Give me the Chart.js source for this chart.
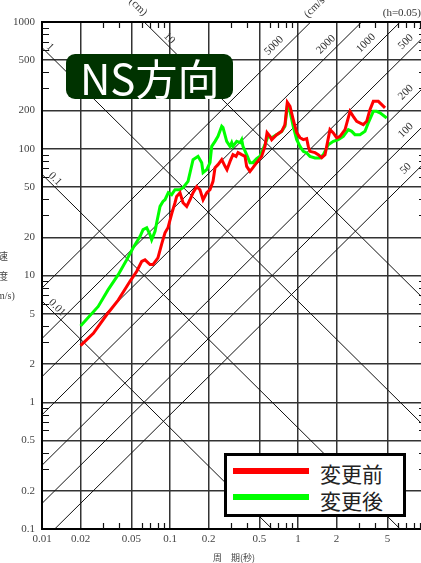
<!DOCTYPE html>
<html><head><meta charset="utf-8">
<script src="https://cdn.jsdelivr.net/npm/chart.js@4/dist/chart.umd.min.js"></script>
<style>
html,body{margin:0;padding:0;overflow:hidden;background:#fff;width:421px;height:563px;}
#wrap{position:relative;width:421px;height:563px;overflow:hidden;}
#c{position:absolute;left:0;top:0;}
#title{position:absolute;left:66px;top:54px;width:153px;height:45px;padding-left:14px;background:#003300;border-radius:9px;color:#fff;font:42px 'Noto Sans CJK JP',sans-serif;line-height:45px;text-align:left;white-space:nowrap;overflow:hidden;}
#legend{position:absolute;left:224px;top:453px;width:176px;height:58px;border:3px solid #000;background:#fff;}
.sw{position:absolute;left:6px;width:76px;height:6px;}
.lab{position:absolute;left:93px;font:21px 'Noto Sans CJK JP',sans-serif;line-height:21px;color:#222;white-space:nowrap;}
</style></head>
<body><div id="wrap"><canvas id="c" width="440" height="563"></canvas><div id="title"></div><div id="legend"></div></div>
<script>
// ---- data ----
const chartTitle = 'NS方向';
const seriesNames = ['変更前', '変更後'];
const seriesColors = ['#ff0000', '#00ff00'];

const T_before = [0.02,0.0252,0.032,0.0394,0.0487,0.055,0.0601,0.0638,0.0698,0.0736,0.0805,0.0866,0.0914,0.0964,0.1037,0.1094,0.1127,0.1197,0.1264,0.135,0.1432,0.1514,0.1617,0.1714,0.1813,0.1937,0.2054,0.2168,0.2248,0.2371,0.2536,0.2692,0.2786,0.2945,0.3105,0.328,0.34,0.363,0.3855,0.397,0.4217,0.4446,0.4753,0.52,0.552,0.573,0.604,0.623,0.682,0.746,0.791,0.825,0.866,0.918,0.977,1.037,1.1,1.169,1.203,1.24,1.358,1.44,1.531,1.626,1.778,1.888,2.006,2.13,2.33,2.55,2.70,2.874,3.236,3.44,3.65,3.875,4.24,4.51,4.786];
const V_before = [2.8,3.5,4.9,6.4,9.0,10.8,12.9,13.3,12.2,12.2,13.8,18.1,21.7,23.8,31.3,37.5,42.1,45,37.5,35.1,39.6,45,50.2,47.5,39.6,45,47.5,55.3,70.9,74.9,82,72.6,68.4,79.5,89.8,87.1,93.2,89.8,87.1,72.6,66.3,70.9,77.7,87.1,104.4,134,125.3,118,129.2,137.2,155,232.6,216.3,169.8,134,122.3,118,120.2,104.4,95.4,93.2,89.8,85.1,89.8,141.5,133.3,121.7,125.3,141.5,197.4,180.3,164.6,155,164.6,203.6,236.7,236.7,223,210];

const T_after = [0.02,0.0275,0.0328,0.0393,0.0459,0.0514,0.0583,0.0616,0.0658,0.0698,0.0719,0.0764,0.0787,0.0836,0.0881,0.0914,0.097,0.103,0.1094,0.1197,0.1264,0.1383,0.1514,0.1656,0.1769,0.1813,0.1937,0.2054,0.2118,0.2248,0.2371,0.2536,0.2594,0.2773,0.2945,0.3034,0.3105,0.332,0.3524,0.363,0.3715,0.397,0.4217,0.4446,0.4753,0.505,0.552,0.583,0.623,0.682,0.746,0.791,0.825,0.866,0.918,0.977,1.037,1.1,1.169,1.24,1.358,1.485,1.577,1.725,1.888,2.064,2.259,2.472,2.628,2.786,3.05,3.337,3.54,3.875,4.12,4.37,4.93];
const V_after = [4.0,5.7,7.7,10.1,13.3,16.5,20.3,23.0,23.8,21,19.1,22.3,26.1,35.1,38.4,39.6,45,43.4,47.5,47.5,49.3,55.3,82,87.1,77.7,64.7,68.4,77.7,104.4,114.4,125.3,150.3,146.8,114.4,104.4,111.7,104.4,114.4,111.7,118,104.4,89.8,77.7,77.7,83.5,87.1,107.7,125.3,122.3,129.2,137.2,150.3,216.3,197.4,150.3,118,104.4,95.4,92.6,87.1,84.6,84.6,89.8,107.7,114.4,118,125.3,141.5,137.2,129.2,129.2,137.2,159.9,197.4,197.4,191.8,175];

const xTickLabels = ['0.01','0.02','0.05','0.1','0.2','0.5','1','2','5','10'];
const yTickLabels = ['0.1','0.2','0.5','1','2','5','10','20','50','100','200','500','1000'];
const dispLines = [0.01, 0.1, 1, 10];            // displacement (cm)
const dispLabelAt = [0.01214, 0.01172, 0.01071, 0.0914];
const accLines = [50, 100, 200, 500, 1000, 2000, 5000];   // acceleration (cm/s2)
const accLabelAt = [7.8, 7.8, 7.8, 7.8, 3.81, 1.858, 0.729];
const xTitle = '周　期(秒)';
const yTitle = ['速', '度', '(cm/s)'];
const dispUnit = '(cm)';
const accUnit = '(cm/s²)';
const dampingNote = '(h=0.05)';

// ---- helpers ----
const TWO_PI = 2 * Math.PI;
const X_MIN = 0.01, X_MAX = 10, Y_MIN = 0.1, Y_MAX = 1000;
function logTicks(min, max) {
  const out = [];
  for (let e = Math.round(Math.log10(min)); e <= Math.round(Math.log10(max)); e++) {
    for (let m = 1; m <= 9; m++) {
      const v = Number((m * Math.pow(10, e)).toPrecision(6));
      if (v >= min * 0.9999 && v <= max * 1.0001) out.push(v);
    }
  }
  return out;
}
function labelFor(v, labels) {
  for (const s of labels) { if (Math.abs(parseFloat(s) / v - 1) < 1e-6) return s; }
  return '';
}
const xAll = logTicks(X_MIN, X_MAX), yAll = logTicks(Y_MIN, Y_MAX);

const datasets = [];
[[T_before, V_before], [T_after, V_after]].forEach((s, i) => {
  datasets.push({
    label: seriesNames[i], series: true,
    data: s[0].map((t, k) => ({x: t, y: s[1][k]})),
    borderColor: seriesColors[i], backgroundColor: seriesColors[i],
    borderWidth: 3, pointRadius: 0, tension: 0, order: i
  });
});
dispLines.forEach(D => datasets.push({
  label: 'D' + D, data: [{x: X_MIN, y: TWO_PI * D / X_MIN}, {x: X_MAX, y: TWO_PI * D / X_MAX}],
  borderColor: '#111', borderWidth: 1, pointRadius: 0, order: 10
}));
accLines.forEach(A => datasets.push({
  label: 'A' + A, data: [{x: X_MIN, y: A * X_MIN / TWO_PI}, {x: X_MAX, y: A * X_MAX / TWO_PI}],
  borderColor: '#111', borderWidth: 1, pointRadius: 0, order: 10
}));

const SERIF = "'Liberation Serif', serif";
const CJK = "'Noto Sans CJK JP', sans-serif";

const decor = {
  id: 'decor',
  afterDraw(chart) {
    const {ctx, chartArea: a, scales: {x, y}} = chart;
    ctx.save();
    // frame
    ctx.strokeStyle = '#000'; ctx.lineWidth = 2;
    ctx.strokeRect(a.left, a.top, a.right - a.left, a.bottom - a.top);
    // inner minor ticks
    ctx.lineWidth = 1.2; ctx.strokeStyle = '#111';
    ctx.beginPath();
    xAll.forEach(v => {
      if (labelFor(v, xTickLabels)) return;
      const px = Math.round(x.getPixelForValue(v)) + 0.5;
      ctx.moveTo(px, a.bottom); ctx.lineTo(px, a.bottom - 6);
      ctx.moveTo(px, a.top); ctx.lineTo(px, a.top + 6);
    });
    yAll.forEach(v => {
      if (labelFor(v, yTickLabels)) return;
      const py = Math.round(y.getPixelForValue(v)) + 0.5;
      ctx.moveTo(a.left, py); ctx.lineTo(a.left + 7, py);
      ctx.moveTo(a.right, py); ctx.lineTo(a.right - 7, py);
    });
    ctx.stroke();
    // diagonal labels
    ctx.fillStyle = '#333'; ctx.font = '11px ' + SERIF;
    ctx.textAlign = 'center'; ctx.textBaseline = 'middle';
    const rot = (txt, cx, cy, ang) => { ctx.save(); ctx.translate(cx, cy); ctx.rotate(ang); ctx.fillText(txt, 0, 0); ctx.restore(); };
    dispLines.forEach((D, i) => {
      const T = dispLabelAt[i];
      const px = x.getPixelForValue(T), py = y.getPixelForValue(TWO_PI * D / T);
      rot(String(D), px + 4.2, py - 4.2, Math.PI / 4);
    });
    accLines.forEach((A, i) => {
      const T = accLabelAt[i];
      const px = x.getPixelForValue(T), py = y.getPixelForValue(A * T / TWO_PI);
      rot(String(A), px - 6.4, py - 6.4, -Math.PI / 4);
    });
    rot(dispUnit, 138, 7, Math.PI / 4);
    rot(accUnit, 317, 5, -Math.PI / 4);
    ctx.textAlign = 'right';
    ctx.fillText(dampingNote, 421, 13);
    // y title (stacked)
    ctx.textAlign = 'center'; ctx.fillStyle = '#444';
    ctx.font = '10px ' + CJK;
    ctx.fillText(yTitle[0], 3, 256);
    ctx.fillText(yTitle[1], 3, 276);
    ctx.font = '10px ' + SERIF;
    ctx.fillText(yTitle[2], 2, 296);
    ctx.restore();
  }
};

const htmlLegend = {
  id: 'htmlLegend',
  afterUpdate(chart) {
    const box = document.getElementById('legend');
    box.innerHTML = '';
    chart.data.datasets.filter(d => d.series).forEach((d, i) => {
      const sw = document.createElement('div');
      sw.className = 'sw'; sw.style.top = (11.5 + i * 26) + 'px'; sw.style.background = d.borderColor;
      const lb = document.createElement('div');
      lb.className = 'lab'; lb.style.top = (7 + i * 27) + 'px'; lb.textContent = d.label;
      box.appendChild(sw); box.appendChild(lb);
    });
  }
};
document.getElementById('title').textContent = chartTitle;

new Chart(document.getElementById('c'), {
  type: 'line',
  data: {datasets},
  plugins: [decor, htmlLegend],
  options: {
    responsive: false, animation: false, devicePixelRatio: 1,
    layout: {padding: {left: 0, top: 22, right: 14, bottom: 0}},
    plugins: {legend: {display: false}, tooltip: {enabled: false}},
    scales: {
      x: {
        type: 'logarithmic', position: 'bottom', min: X_MIN, max: X_MAX,
        afterBuildTicks: s => { s.ticks = xAll.map(v => ({value: v})); },
        afterFit: s => { s.height = 34; },
        ticks: {autoSkip: false, maxRotation: 0, minRotation: 0, padding: 4, color: '#444',
          font: {family: SERIF, size: 11}, callback: v => labelFor(v, xTickLabels)},
        grid: {drawTicks: false, lineWidth: 1.5,
          color: c => (c.tick && labelFor(c.tick.value, xTickLabels)) ? '#333' : 'rgba(0,0,0,0)'},
        border: {display: false},
        title: {display: true, text: xTitle, color: '#444', font: {family: CJK, size: 9}, padding: {top: 0, bottom: 0}}
      },
      y: {
        type: 'logarithmic', position: 'left', min: Y_MIN, max: Y_MAX,
        afterBuildTicks: s => { s.ticks = yAll.map(v => ({value: v})); },
        afterFit: s => { s.width = 42; },
        ticks: {autoSkip: false, padding: 7, color: '#444',
          font: {family: SERIF, size: 11}, callback: v => labelFor(v, yTickLabels)},
        grid: {drawTicks: false, lineWidth: 1.5,
          color: c => (c.tick && labelFor(c.tick.value, yTickLabels)) ? '#333' : 'rgba(0,0,0,0)'},
        border: {display: false}
      }
    }
  }
});
</script>
</body></html>
